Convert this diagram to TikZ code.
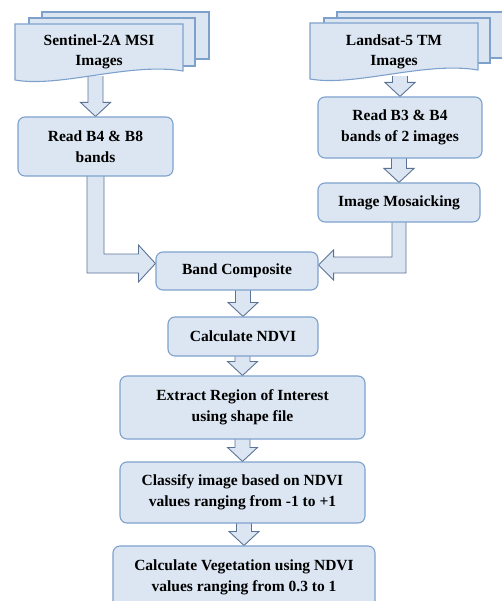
\documentclass[tikz,border=0pt]{standalone}
\usepackage{fontspec}
\setmainfont{Liberation Serif}
\usetikzlibrary{calc,backgrounds}

\definecolor{boxfill}{HTML}{DCE6F2}
\definecolor{boxline}{HTML}{7EA1CC}
\definecolor{arrline}{HTML}{5B7496}

% fat down arrow from one box to the next
\newcommand{\blockdown}[2]{%
  \draw[fatarrow] ($(#2.north |- #1.south)+(-7.5,-4)$) -- ($(#2.north)+(-7.5,-14)$)
    -- ($(#2.north)+(-15,-14)$) -- (#2.north) -- ($(#2.north)+(15,-14)$)
    -- ($(#2.north)+(7.5,-14)$) -- ($(#2.north |- #1.south)+(7.5,-4)$);}

\begin{document}
\begin{tikzpicture}[x=1pt, y=-1pt,
    procbox/.style={draw=boxline, fill=boxfill, rounded corners=7pt, line width=1.1pt, text=black,
      font=\bfseries\fontsize{15.5}{21}\selectfont, align=center, inner sep=0pt},
    doctext/.style={text=black, font=\bfseries\fontsize{15.5}{20}\selectfont, align=center, inner sep=0pt},
    docline/.style={draw=boxline, fill=boxfill, line width=1.1pt},
    fatarrow/.style={draw=arrline, fill=boxfill, line width=0.9pt, line join=miter}]
\useasboundingbox (0,0) rectangle (502,601);

% input images
\node[doctext, minimum width=168pt, minimum height=56pt] (sen) at (99,52) {Sentinel-2A MSI\\Images};
\node[doctext, minimum width=168pt, minimum height=57pt] (land) at (394,51.5) {Landsat-5 TM\\Images};

% processing steps
\node[procbox, minimum width=155pt, minimum height=59pt] (read8) at (95.5,146.5) {Read B4 \& B8\\bands};
\node[procbox, minimum width=164pt, minimum height=61pt] (read34) at (400,127.5) {Read B3 \& B4\\bands of 2 images};
\node[procbox, minimum width=162pt, minimum height=39pt] (mosaic) at (399,202.5) {Image Mosaicking};
\node[procbox, minimum width=162pt, minimum height=38pt] (band) at (237,271) {Band Composite};
\node[procbox, minimum width=150pt, minimum height=39pt] (ndvi) at (243,336.5) {Calculate NDVI};
\node[procbox, minimum width=245pt, minimum height=63pt] (roi) at (242.5,407.5) {Extract Region of Interest\\using shape file};
\node[procbox, minimum width=245pt, minimum height=61pt] (classify) at (242.5,492.5) {Classify image based on NDVI\\values ranging from -1 to +1};
\node[procbox, minimum width=262pt, minimum height=62pt] (veg) at (244,577) {Calculate Vegetation using NDVI\\values ranging from 0.3 to 1};

\coordinate (tipL) at ($(band.west)+(0,-7.5)$);
\coordinate (tipR) at ($(band.east)+(0,-6)$);

\begin{scope}[on background layer]
  \blockdown{sen}{read8}
  \blockdown{land}{read34}
  \blockdown{read34}{mosaic}
  \blockdown{band}{ndvi}
  \blockdown{ndvi}{roi}
  \blockdown{roi}{classify}
  \blockdown{classify}{veg}
  \draw[fatarrow] ($(read8.south)+(8.5,-4)$) |- ($(tipL)+(-17,-9.5)$) -- ($(tipL)+(-17,-18.5)$) -- (tipL)
    -- ($(tipL)+(-17,18.5)$) -- ($(tipL)+(-17,9.5)$) -| ($(read8.south)+(-8.5,-4)$);
  \draw[fatarrow] ($(mosaic.south)+(-7,-4)$) |- ($(tipR)+(15,-8)$) -- ($(tipR)+(15,-15)$) -- (tipR)
    -- ($(tipR)+(15,15)$) -- ($(tipR)+(15,8)$) -| ($(mosaic.south)+(7,-4)$);

  % stacked documents
  \draw[docline] (42,12) rectangle (209,59);
  \draw[docline] (29,18) rectangle (195,66);
  \draw[docline] (15,24) -- (183,24) -- (183,71) .. controls (130,62) and (60,88) .. (15,80) -- cycle;
  \draw[docline] (337,12) rectangle (520,58);
  \draw[docline] (324,18) rectangle (490,63);
  \draw[docline] (310,23) -- (478,23) -- (478,70) .. controls (425,61) and (355,87) .. (310,79) -- cycle;
\end{scope}
\end{tikzpicture}
\end{document}
